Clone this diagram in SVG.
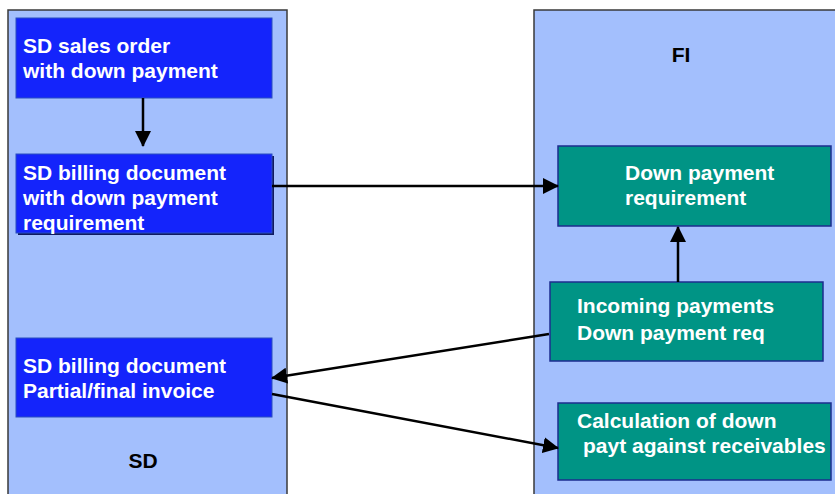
<svg xmlns="http://www.w3.org/2000/svg" width="835" height="494" viewBox="0 0 835 494">
<style>
.panel{fill:#A3BFFD;stroke:#3a3a3a;stroke-width:1.5}
.sd{fill:#1424FB;stroke:#2a4fc0;stroke-width:1}
.fi{fill:#009485;stroke:#1c2d8f;stroke-width:1.5}
.wt{font-family:"Liberation Sans",Arial,sans-serif;font-weight:bold;font-size:21px;fill:#fff}
.lb{font-family:"Liberation Sans",Arial,sans-serif;font-weight:bold;font-size:21px;fill:#000}
.conn{stroke:#000;stroke-width:2.5;fill:none}
</style>
<defs>
<marker id="ah" markerWidth="16" markerHeight="16" refX="15" refY="8" orient="auto" markerUnits="userSpaceOnUse">
<path d="M0,0 L16,8 L0,16 Z" fill="#000"/>
</marker>
</defs>
<rect width="835" height="494" fill="#fff"/>
<g id="panel-sd">
<rect class="panel" x="8" y="10" width="279" height="490"/>
<text class="lb" x="143" y="468" text-anchor="middle">SD</text>
</g>
<g id="panel-fi">
<rect class="panel" x="534" y="10" width="310" height="490"/>
<text class="lb" x="681" y="62" text-anchor="middle">FI</text>
</g>
<g id="sd-sales-order">
<rect class="sd" x="16" y="18" width="256" height="80"/>
<text class="wt" x="23" y="53">SD sales order</text>
<text class="wt" x="23" y="78">with down payment</text>
</g>
<g id="sd-billing-dp">
<rect x="18" y="156" width="256" height="79" fill="#101a60"/>
<rect class="sd" x="16" y="154" width="256" height="79"/>
<text class="wt" x="23" y="180">SD billing document</text>
<text class="wt" x="23" y="205">with down payment</text>
<text class="wt" x="23" y="230">requirement</text>
</g>
<g id="sd-billing-invoice">
<rect class="sd" x="16" y="338" width="256" height="79"/>
<text class="wt" x="23" y="373">SD billing document</text>
<text class="wt" x="23" y="398">Partial/final invoice</text>
</g>
<g id="fi-dp-req">
<rect class="fi" x="558" y="146" width="273" height="80"/>
<text class="wt" x="625" y="180">Down payment</text>
<text class="wt" x="625" y="205">requirement</text>
</g>
<g id="fi-incoming">
<rect class="fi" x="550" y="282" width="273" height="79"/>
<text class="wt" x="577" y="313">Incoming payments</text>
<text class="wt" x="577" y="340">Down payment req</text>
</g>
<g id="fi-calc">
<rect class="fi" x="558" y="403" width="273" height="77"/>
<text class="wt" x="577" y="428">Calculation of down</text>
<text class="wt" x="583" y="453">payt against receivables</text>
</g>
<g id="connectors">
<line class="conn" x1="143" y1="98" x2="143" y2="146" marker-end="url(#ah)"/>
<line class="conn" x1="272" y1="186" x2="558" y2="186" marker-end="url(#ah)"/>
<line class="conn" x1="678" y1="282" x2="678" y2="227" marker-end="url(#ah)"/>
<line class="conn" x1="549" y1="334" x2="272" y2="378" marker-end="url(#ah)"/>
<line class="conn" x1="272" y1="394" x2="558" y2="448" marker-end="url(#ah)"/>
</g>
</svg>
